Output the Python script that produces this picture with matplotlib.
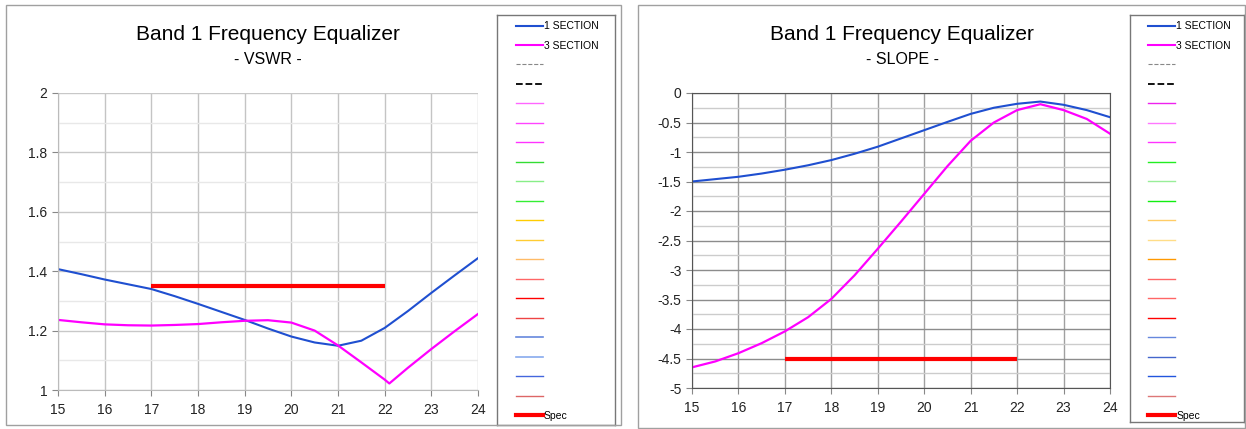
import numpy as np
import matplotlib.pyplot as plt
from matplotlib.lines import Line2D
from matplotlib.patches import Rectangle
from matplotlib.ticker import MultipleLocator

plt.rcParams['font.family'] = ['Liberation Sans', 'DejaVu Sans']

# VSWR panel
f_vswr = [15, 15.5, 16, 16.5, 17, 17.5, 18, 18.5, 19, 19.5, 20, 20.5, 21, 21.5, 22, 22.5, 23, 23.5, 24]
vswr_1sec = [1.407, 1.39, 1.372, 1.356, 1.34, 1.316, 1.29, 1.263, 1.236, 1.207, 1.18, 1.16, 1.149,
             1.166, 1.209, 1.266, 1.327, 1.386, 1.444]
f_vswr3 = [15, 15.5, 16, 16.5, 17, 17.5, 18, 18.5, 19, 19.5, 20, 20.5, 21, 21.5, 22, 22.1, 22.5, 23, 23.5, 24]
vswr_3sec = [1.236, 1.228, 1.221, 1.218, 1.217, 1.219, 1.222, 1.228, 1.233, 1.235, 1.227, 1.2, 1.15,
             1.093, 1.035, 1.022, 1.075, 1.138, 1.198, 1.256]
vswr_spec_f = [17, 22]
vswr_spec = [1.35, 1.35]

# SLOPE panel
f_slope = [15, 15.5, 16, 16.5, 17, 17.5, 18, 18.5, 19, 19.5, 20, 20.5, 21, 21.5, 22, 22.5, 23, 23.5, 24]
slope_1sec = [-1.5, -1.46, -1.42, -1.365, -1.3, -1.225, -1.137, -1.03, -0.91, -0.77, -0.63, -0.49, -0.354,
              -0.25, -0.183, -0.145, -0.2, -0.29, -0.41]
slope_3sec = [-4.65, -4.55, -4.41, -4.24, -4.04, -3.8, -3.49, -3.09, -2.64, -2.18, -1.71, -1.24, -0.81,
              -0.5, -0.29, -0.19, -0.29, -0.44, -0.69]
slope_spec_f = [17, 22]
slope_spec = [-4.5, -4.5]

leg_left = [('#1f4fd0', '-', 1.5, '1 SECTION'), ('#ff00ff', '-', 1.5, '3 SECTION'),
            ('#888888', '--', 0.8, ''), ('#000000', '--', 1.3, ''),
            ('#ff66ff', '-', 1.0, ''), ('#ff44ff', '-', 1.0, ''), ('#ff33ff', '-', 1.0, ''),
            ('#33dd33', '-', 1.0, ''), ('#88ee88', '-', 1.0, ''), ('#33ee33', '-', 1.0, ''),
            ('#ffcc00', '-', 1.0, ''), ('#ffcc33', '-', 1.0, ''), ('#ffbb66', '-', 1.0, ''),
            ('#ff6666', '-', 1.0, ''), ('#ff0000', '-', 1.0, ''), ('#ee4444', '-', 1.0, ''),
            ('#6688dd', '-', 1.2, ''), ('#88aaee', '-', 1.2, ''), ('#4466dd', '-', 1.0, ''),
            ('#dd6666', '-', 1.0, ''), ('#ff0000', '-', 3.0, 'Spec')]
leg_right = [('#1f4fd0', '-', 1.5, '1 SECTION'), ('#ff00ff', '-', 1.5, '3 SECTION'),
             ('#888888', '--', 0.8, ''), ('#000000', '--', 1.3, ''),
             ('#ee22ee', '-', 1.0, ''), ('#ff77ff', '-', 1.0, ''), ('#ff33ff', '-', 1.0, ''),
             ('#22ee22', '-', 1.0, ''), ('#99ee99', '-', 1.0, ''), ('#11ee11', '-', 1.0, ''),
             ('#ffcc66', '-', 1.0, ''), ('#ffdd88', '-', 1.0, ''), ('#ff9900', '-', 1.0, ''),
             ('#ff6666', '-', 1.0, ''), ('#ff6666', '-', 1.0, ''), ('#ff0000', '-', 1.0, ''),
             ('#6688dd', '-', 1.0, ''), ('#4466cc', '-', 1.0, ''), ('#2255dd', '-', 1.0, ''),
             ('#dd7777', '-', 1.0, ''), ('#ff0000', '-', 3.0, 'Spec')]

fig = plt.figure(figsize=(12.46, 4.29), dpi=100)

# panel frames
for x0, y0, w, h in [(6, 5, 615, 420), (638, 5, 607, 423)]:
    fig.patches.append(Rectangle((x0 / 1246, 1 - (y0 + h) / 429), w / 1246, h / 429,
                                 transform=fig.transFigure, fill=False, ec='#a0a0a0', lw=1.0))


def style_axes(ax, major_col, minor_col, vcol, spine_col):
    ax.grid(True, which='major', axis='y', color=major_col, lw=1.0)
    ax.grid(True, which='minor', axis='y', color=minor_col, lw=1.0)
    ax.grid(True, which='major', axis='x', color=vcol, lw=1.0)
    ax.set_axisbelow(True)
    ax.set_xlim(15, 24)
    ax.xaxis.set_major_locator(MultipleLocator(1))
    for s in ax.spines.values():
        s.set_color(spine_col)
    ax.tick_params(which='major', length=4, color='#888888', labelsize=10, labelcolor='#222222')
    ax.tick_params(axis='x', pad=5)
    ax.tick_params(which='minor', length=0)


def add_legend(rect, entries):
    lax = fig.add_axes(rect)
    lax.set_xticks([])
    lax.set_yticks([])
    for s in lax.spines.values():
        s.set_color('#777777')
        s.set_linewidth(1.0)
    handles = [Line2D([], [], color=c, ls=ls, lw=lw) for c, ls, lw, _ in entries]
    labels = [lab for _, _, _, lab in entries]
    lax.legend(handles, labels, loc='upper left', bbox_to_anchor=(0.14, 0.99), frameon=False,
               fontsize=7.5, handlelength=2.6, handletextpad=0.1, labelspacing=0.91,
               borderaxespad=0.0, borderpad=0.2)


# left: VSWR
ax1 = fig.add_axes([58 / 1246, 1 - 390 / 429, 420 / 1246, 297 / 429])
ax1.plot(f_vswr, vswr_1sec, color='#1f4fd0', lw=1.5)
ax1.plot(f_vswr3, vswr_3sec, color='#ff00ff', lw=1.6)
ax1.plot(vswr_spec_f, vswr_spec, color='#ff0000', lw=3.0, solid_capstyle='butt')
ax1.set_ylim(1, 2)
ax1.yaxis.set_major_locator(MultipleLocator(0.2))
ax1.yaxis.set_minor_locator(MultipleLocator(0.1))
ax1.yaxis.set_major_formatter(lambda v, p: f'{v:g}')
style_axes(ax1, '#c8c8c8', '#e8e8e8', '#c4c4c4', '#bbbbbb')
ax1.spines['top'].set_visible(False)
ax1.spines['right'].set_visible(False)
fig.text(268 / 1246, 1 - 35 / 429, 'Band 1 Frequency Equalizer', ha='center', va='center', fontsize=15)
fig.text(268 / 1246, 1 - 60 / 429, '- VSWR -', ha='center', va='center', fontsize=11.5)
add_legend([497 / 1246, 1 - 425 / 429, 118 / 1246, 410 / 429], leg_left)

# right: SLOPE
ax2 = fig.add_axes([692 / 1246, 1 - 388 / 429, 418 / 1246, 295 / 429])
ax2.plot(f_slope, slope_1sec, color='#1f4fd0', lw=1.5)
ax2.plot(f_slope, slope_3sec, color='#ff00ff', lw=1.6)
ax2.plot(slope_spec_f, slope_spec, color='#ff0000', lw=3.0, solid_capstyle='butt')
ax2.set_ylim(-5, 0)
ax2.yaxis.set_major_locator(MultipleLocator(0.5))
ax2.yaxis.set_minor_locator(MultipleLocator(0.25))
ax2.yaxis.set_major_formatter(lambda v, p: f'{v:g}')
style_axes(ax2, '#8c8c8c', '#cccccc', '#a0a0a0', '#555555')
fig.text(902 / 1246, 1 - 35 / 429, 'Band 1 Frequency Equalizer', ha='center', va='center', fontsize=15)
fig.text(902 / 1246, 1 - 60 / 429, '- SLOPE -', ha='center', va='center', fontsize=11.5)
add_legend([1130 / 1246, 1 - 422 / 429, 114 / 1246, 407 / 429], leg_right)

fig.savefig('out.png', dpi=100)
